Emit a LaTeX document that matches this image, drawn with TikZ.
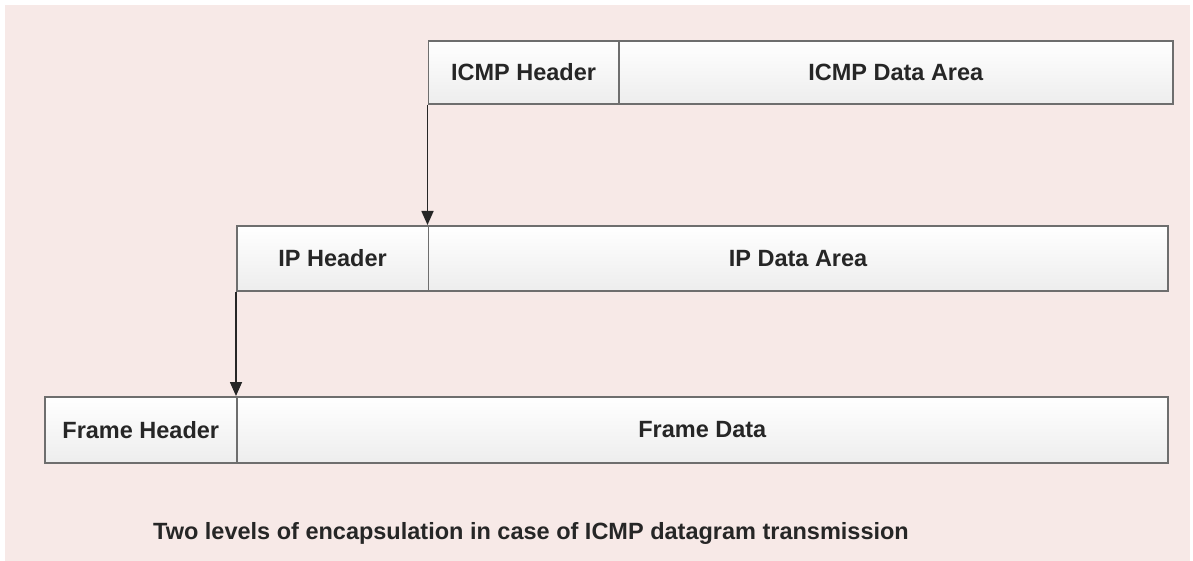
\documentclass[tikz,border=0pt]{standalone}
\usepackage{fontspec}
\setmainfont{Liberation Sans}
\usetikzlibrary{arrows.meta}
\definecolor{bgpink}{HTML}{F7E9E7}
\definecolor{boxline}{HTML}{6E6E6E}
\definecolor{txtdark}{HTML}{262626}
\begin{document}
\begin{tikzpicture}[x=1pt,y=-1pt,
  field/.style={draw=boxline,line width=1.6pt,top color=white,bottom color=gray!14,
    anchor=north west,inner sep=0pt,font=\fontsize{23.5}{28}\selectfont\bfseries,
    text=txtdark},
  carry/.style={line width=1.6pt,draw=black!85,-{Triangle[length=14pt,width=12pt]}}]
\fill[white] (0,0) rectangle (1193,561);
\fill[bgpink] (5,5) rectangle (1190,561);

% icmp message
\node[field,minimum width=190.5pt,minimum height=63pt] (icmphdr) at (427.5,40) {ICMP Header};
\node[field,minimum width=554pt,minimum height=63pt] (icmpdata) at (618,40) {ICMP Data Area};

% ip datagram
\node[field,minimum width=191.5pt,minimum height=65pt] (iphdr) at (236,225) {IP Header};
\node[field,minimum width=739.5pt,minimum height=65pt] (ipdata) at (427.5,225) {IP Data Area};

% frame
\node[field,minimum width=192pt,minimum height=66pt] (framehdr) at (44,396) {Frame Header};
\node[field,minimum width=931pt,minimum height=66pt] (framedata) at (236,396) {Frame Data};

\draw[carry] (icmphdr.south west) -- (ipdata.north west);
\draw[carry] (iphdr.south west) -- (framedata.north west);

\node[font=\fontsize{23.5}{28}\selectfont\bfseries,text=txtdark] (caption) at (531,533)
  {Two levels of encapsulation in case of ICMP datagram transmission};
\end{tikzpicture}
\end{document}
